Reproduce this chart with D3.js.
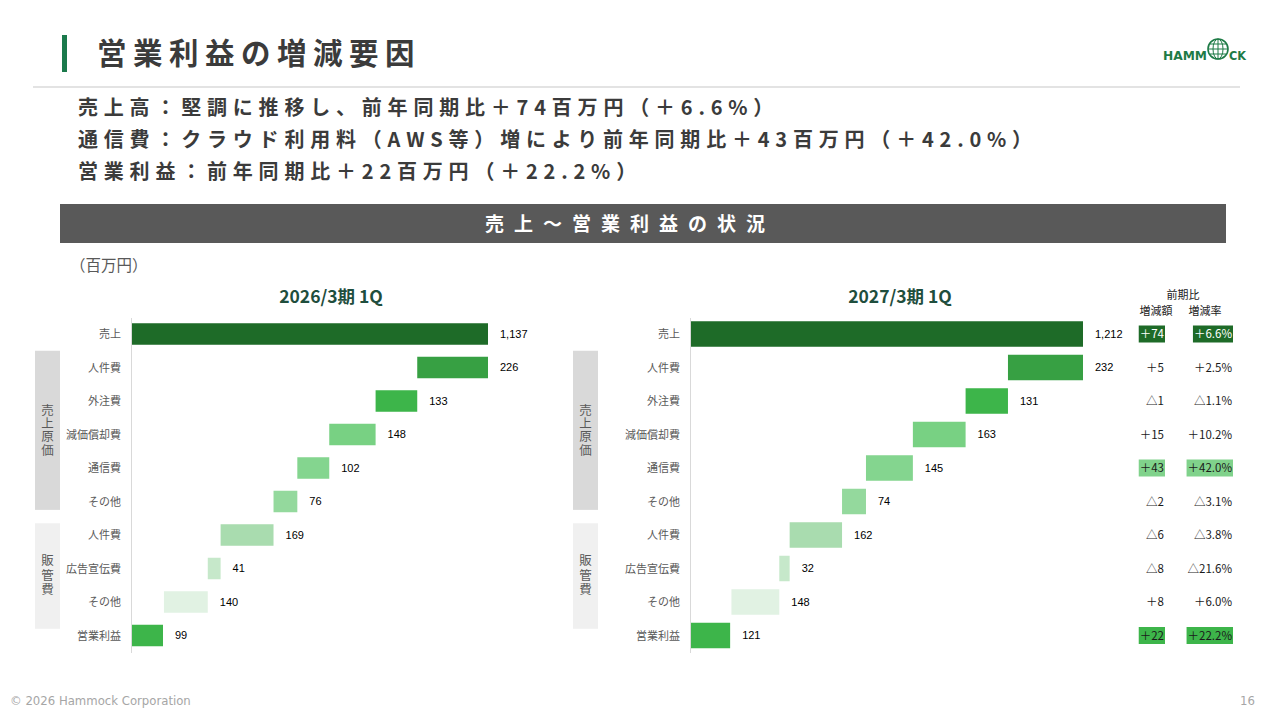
<!DOCTYPE html>
<html>
<head>
<meta charset="utf-8">
<script src="https://cdn.jsdelivr.net/npm/d3@7"></script>
<style>
body { margin: 0; background: #fff; }
svg { display: block; font-family: "Noto Sans CJK JP", sans-serif; }
</style>
</head>
<body>
<svg id="chart" width="1280" height="720"></svg>
<script>
// data (百万円)
var categories = ["売上", "人件費", "外注費", "減価償却費", "通信費", "その他", "人件費", "広告宣伝費", "その他", "営業利益"];
var values2026 = [1137, 226, 133, 148, 102, 76, 169, 41, 140, 99];
var values2027 = [1212, 232, 131, 163, 145, 74, 162, 32, 148, 121];
var diffLabels = ["＋74", "＋5", "△1", "＋15", "＋43", "△2", "△6", "△8", "＋8", "＋22"];
var rateLabels = ["＋6.6%", "＋2.5%", "△1.1%", "＋10.2%", "＋42.0%", "△3.1%", "△3.8%", "△21.6%", "＋6.0%", "＋22.2%"];
var highlightRows = [0, 4, 9];
var groupNames = ["売上原価", "販管費"];
var groupRows = [[1, 5], [6, 8]];
var summaryLines = [
  "売上高：堅調に推移し、前年同期比＋74百万円（＋6.6%）",
  "通信費：クラウド利用料（AWS等）増により前年同期比＋43百万円（＋42.0%）",
  "営業利益：前年同期比＋22百万円（＋22.2%）"
];

var barColors = ["#1e6b28", "#37a043", "#3db54a", "#78d183", "#84d58f", "#94d99d", "#a9dcaf", "#c6e8ca", "#e1f2e3", "#3db54a"];
var hlFill = {0: "#1e6b28", 4: "#80d28b", 9: "#3db54a"};
var hlText = {0: "#ffffff", 4: "#1a1a1a", 9: "#1a1a1a"};

var svg = d3.select('#chart');

// header
svg.append('rect').attr('x', 62).attr('y', 35).attr('width', 5).attr('height', 37).attr('fill', '#1b7a4c');
svg.append('text').attr('x', 97).attr('y', 64)
  .attr('font-size', 29.5).attr('font-weight', 700).attr('letter-spacing', 6.5)
  .attr('fill', '#3b3b3b').text('営業利益の増減要因');
svg.append('line').attr('x1', 33).attr('x2', 1240).attr('y1', 87).attr('y2', 87)
  .attr('stroke', '#e3e3e3').attr('stroke-width', 2);

// logo
var logo = svg.append('g').attr('fill', '#1e7b46');
logo.append('text').attr('x', 1163).attr('y', 60).attr('font-family', 'DejaVu Sans')
  .attr('font-weight', 700).attr('font-size', 12)
  .attr('textLength', 44).attr('lengthAdjust', 'spacingAndGlyphs').text('HAMM');
logo.append('text').attr('x', 1229).attr('y', 60).attr('font-family', 'DejaVu Sans')
  .attr('font-weight', 700).attr('font-size', 12)
  .attr('textLength', 17).attr('lengthAdjust', 'spacingAndGlyphs').text('CK');
var gx = 1218, gy = 49, gr = 10;
var globe = svg.append('g').attr('fill', 'none').attr('stroke', '#1e7b46');
globe.append('circle').attr('cx', gx).attr('cy', gy).attr('r', gr).attr('stroke-width', 1.6);
globe.append('ellipse').attr('cx', gx).attr('cy', gy).attr('rx', 5).attr('ry', gr).attr('stroke-width', 1);
globe.append('line').attr('x1', gx).attr('x2', gx).attr('y1', gy - gr).attr('y2', gy + gr).attr('stroke-width', 1);
[-5, 0, 5].forEach(function(d) {
  var hw = Math.sqrt(gr * gr - d * d);
  globe.append('line').attr('x1', gx - hw).attr('x2', gx + hw).attr('y1', gy + d).attr('y2', gy + d).attr('stroke-width', 1);
});

// summary lines
svg.selectAll('.summary').data(summaryLines).enter().append('text')
  .attr('class', 'summary')
  .attr('x', 78).attr('y', function(d, i) { return 115 + i * 32; })
  .attr('font-size', 20).attr('font-weight', 700).attr('letter-spacing', 5.8)
  .attr('fill', '#3b3b3b').text(function(d) { return d; });

// banner
svg.append('rect').attr('x', 60).attr('y', 204).attr('width', 1166).attr('height', 39).attr('fill', '#595959');
svg.append('text').attr('x', 630).attr('y', 231).attr('text-anchor', 'middle')
  .attr('font-size', 19).attr('font-weight', 700).attr('letter-spacing', 10)
  .attr('fill', '#ffffff').text('売上～営業利益の状況');

svg.append('text').attr('x', 70).attr('y', 271).attr('font-size', 15.5)
  .attr('fill', '#595959').text('（百万円）');

var rowY = d3.scalePoint().domain(d3.range(categories.length)).range([334, 635.5]);
var step = rowY.step();

function drawPanel(values, x0, x1, barH, boxX, title, titleX) {
  var x = d3.scaleLinear().domain([0, values[0]]).range([x0, x1]);
  var last = values.length - 1;
  var cum = values[0];
  var spans = values.map(function(v, i) {
    if (i === 0 || i === last) return [0, v];
    var s = [cum - v, cum];
    cum -= v;
    return s;
  });

  var g = svg.append('g');

  g.append('text').attr('x', titleX).attr('y', 303).attr('text-anchor', 'middle')
    .attr('font-size', 17.5).attr('font-weight', 700).attr('fill', '#1f4e3d').text(title);

  // side group boxes with vertical captions
  groupRows.forEach(function(r, k) {
    var top = k === 0 ? rowY(r[0]) - step * 0.5 : rowY(r[0]) - step * 0.35;
    var bot = k === 0 ? rowY(r[1]) + step * 0.25 : rowY(r[1]) + step * 0.8;
    g.append('rect').attr('x', boxX).attr('y', top).attr('width', 25).attr('height', bot - top)
      .attr('fill', k === 0 ? '#d9d9d9' : '#f0f0f0');
    g.append('text').attr('x', boxX + 12.5).attr('y', (top + bot) / 2)
      .attr('writing-mode', 'vertical-rl').attr('text-anchor', 'middle')
      .attr('letter-spacing', k === 0 ? 0.8 : 2)
      .attr('font-size', 12.5).attr('fill', '#595959').text(groupNames[k]);
  });

  g.append('line').attr('x1', x0 - 0.5).attr('x2', x0 - 0.5).attr('y1', 318).attr('y2', 653)
    .attr('stroke', '#d9d9d9').attr('stroke-width', 1);

  var axis = d3.axisLeft(rowY).tickSize(0).tickPadding(11)
    .tickFormat(function(i) { return categories[i]; });
  var ag = g.append('g').attr('transform', 'translate(' + x0 + ',0)').call(axis);
  ag.select('.domain').remove();
  ag.attr('font-family', '"Noto Sans CJK JP", sans-serif').attr('font-size', 11);
  ag.selectAll('text').attr('fill', '#595959');

  g.selectAll('.bar').data(spans).enter().append('rect')
    .attr('class', 'bar')
    .attr('x', function(d) { return x(d[0]); })
    .attr('y', function(d, i) { return rowY(i) - barH / 2; })
    .attr('width', function(d) { return x(d[1]) - x(d[0]); })
    .attr('height', barH)
    .attr('fill', function(d, i) { return barColors[i]; });

  g.selectAll('.val').data(spans).enter().append('text')
    .attr('class', 'val')
    .attr('x', function(d) { return x(d[1]) + 12; })
    .attr('y', function(d, i) { return rowY(i); })
    .attr('dy', '0.35em')
    .attr('font-family', '"Liberation Sans", Arial, sans-serif')
    .attr('font-size', 11).attr('fill', '#000')
    .text(function(d, i) { return d3.format(',')(values[i]); });
}

drawPanel(values2026, 132, 488, 21.5, 35, '2026/3期 1Q', 331);
drawPanel(values2027, 691, 1083, 25.5, 573, '2027/3期 1Q', 900);

// 前期比 table
var tbl = svg.append('g').attr('font-size', 11.5);
tbl.append('text').attr('x', 1183).attr('y', 299).attr('text-anchor', 'middle').attr('font-size', 11).attr('fill', '#222').text('前期比');
tbl.append('text').attr('x', 1156).attr('y', 315).attr('text-anchor', 'middle').attr('font-size', 11).attr('fill', '#222').text('増減額');
tbl.append('text').attr('x', 1205).attr('y', 315).attr('text-anchor', 'middle').attr('font-size', 11).attr('fill', '#222').text('増減率');

function drawColumn(labels, rightX, minLeft) {
  var col = tbl.append('g');
  var texts = col.selectAll('text').data(labels).enter().append('text')
    .attr('x', rightX).attr('y', function(d, i) { return rowY(i); })
    .attr('dy', '0.36em').attr('text-anchor', 'end')
    .attr('fill', function(d, i) { return hlText[i] || '#1a1a1a'; })
    .text(function(d) { return d; });
  texts.each(function(d, i) {
    if (highlightRows.indexOf(i) < 0) return;
    var bb = this.getBBox();
    var left = Math.min(bb.x - 1, minLeft);
    col.insert('rect', 'text').attr('x', left).attr('y', rowY(i) - 8.5)
      .attr('width', rightX + 1 - left).attr('height', 17).attr('fill', hlFill[i]);
  });
}
drawColumn(diffLabels, 1164, 1140);
drawColumn(rateLabels, 1232, 1300);

// footer
svg.append('text').attr('x', 10).attr('y', 705).attr('font-family', '"DejaVu Sans Condensed", "DejaVu Sans", sans-serif')
  .attr('font-size', 13).attr('fill', '#a6a6a6').text('© 2026 Hammock Corporation');
svg.append('text').attr('x', 1255).attr('y', 705).attr('text-anchor', 'end')
  .attr('font-family', '"DejaVu Sans Condensed", "DejaVu Sans", sans-serif')
  .attr('font-size', 13).attr('fill', '#a6a6a6').text('16');
</script>
</body>
</html>
